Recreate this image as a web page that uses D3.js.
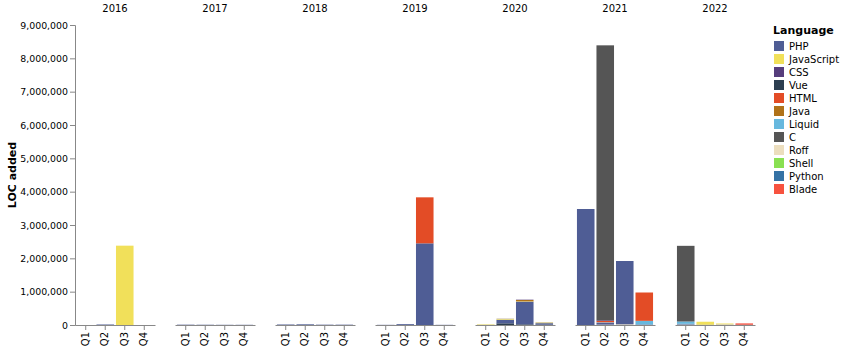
<!DOCTYPE html>
<html>
<head>
<meta charset="utf-8">
<script src="https://cdn.jsdelivr.net/npm/d3@7"></script>
<style>
  body { margin: 0; background: #fff; }
  svg { font-family: "DejaVu Sans", sans-serif; }
</style>
</head>
<body>
<div id="chart"></div>
<script>
//categories
const years = ["2016", "2017", "2018", "2019", "2020", "2021", "2022"];
const quarters = ["Q1", "Q2", "Q3", "Q4"];
const languages = ["PHP", "JavaScript", "CSS", "Vue", "HTML", "Java", "Liquid", "C", "Roff", "Shell", "Python", "Blade"];
const colors = ["#4f5d95", "#f1e05a", "#563d7c", "#2c3e50", "#e34c26", "#b07219", "#67b8de", "#555555", "#ecdebe", "#89e051", "#3572a5", "#f7523f"];
const yTicks = [0, 1000000, 2000000, 3000000, 4000000, 5000000, 6000000, 7000000, 8000000, 9000000];

//LOC added, one value per year/quarter (2016 Q1 ... 2022 Q4)
const phpLoc        = [0, 15000, 0, 0,   10000, 8000, 6000, 6000,   15000, 20000, 10000, 10000,   5000, 25000, 2450000, 5000,   4000, 110000, 680000, 45000,   3480000, 50000, 1900000, 15000,   15000, 8000, 5000, 8000];
const javascriptLoc = [0, 0, 2380000, 0,   0, 0, 0, 0,   0, 0, 0, 0,   0, 0, 0, 0,   15000, 25000, 10000, 20000,   0, 0, 0, 0,   0, 90000, 25000, 0];
const cssLoc        = [0, 0, 0, 0,   0, 0, 0, 0,   0, 0, 0, 0,   0, 0, 0, 0,   0, 5000, 10000, 5000,   0, 20000, 0, 0,   0, 0, 0, 0];
const vueLoc        = [0, 0, 0, 0,   0, 0, 0, 0,   0, 0, 0, 0,   0, 0, 0, 0,   0, 50000, 20000, 10000,   0, 0, 0, 0,   0, 0, 0, 0];
const htmlLoc       = [0, 0, 0, 0,   0, 0, 0, 0,   0, 0, 0, 0,   0, 0, 1380000, 0,   0, 0, 0, 0,   0, 40000, 0, 850000,   0, 0, 0, 0];
const javaLoc       = [0, 0, 0, 0,   0, 0, 0, 0,   0, 0, 0, 0,   0, 0, 0, 0,   0, 0, 40000, 0,   0, 0, 0, 0,   0, 0, 0, 0];
const liquidLoc     = [0, 0, 0, 0,   0, 0, 0, 0,   0, 0, 0, 0,   0, 0, 0, 0,   0, 0, 0, 0,   0, 20000, 0, 110000,   70000, 0, 0, 0];
const cLoc          = [0, 0, 0, 0,   0, 0, 0, 0,   0, 0, 0, 0,   0, 0, 0, 0,   0, 0, 0, 0,   0, 8250000, 0, 0,   2270000, 0, 0, 0];
const roffLoc       = [0, 0, 0, 0,   0, 0, 0, 0,   0, 0, 0, 0,   0, 0, 0, 0,   0, 0, 0, 0,   0, 10000, 20000, 0,   10000, 0, 15000, 0];
const shellLoc      = [0, 0, 0, 0,   0, 0, 0, 0,   0, 0, 0, 0,   0, 0, 0, 0,   0, 0, 0, 0,   0, 0, 0, 0,   0, 0, 0, 0];
const pythonLoc     = [0, 0, 0, 0,   0, 0, 0, 0,   0, 0, 0, 0,   0, 0, 0, 0,   0, 0, 0, 0,   0, 0, 0, 0,   10000, 0, 0, 0];
const bladeLoc      = [0, 0, 0, 0,   0, 0, 0, 0,   0, 0, 0, 0,   0, 0, 0, 0,   0, 0, 0, 0,   0, 0, 0, 0,   0, 0, 0, 40000];
const series = [phpLoc, javascriptLoc, cssLoc, vueLoc, htmlLoc, javaLoc, liquidLoc, cLoc, roffLoc, shellLoc, pythonLoc, bladeLoc];

//svg size
const width = 843;
const height = 351;
const margin = { top: 25, left: 75 };
const facetWidth = 80;
const facetGap = 20;
const innerHeight = 300;

//rows for stacking
const rows = [];
years.forEach((year, yi) => {
  quarters.forEach((q, qi) => {
    const row = { year, quarter: q };
    languages.forEach((lang, li) => { row[lang] = series[li][yi * 4 + qi]; });
    rows.push(row);
  });
});

//stack order: bottom to top in reverse alphabetical order
const stackKeys = languages.slice().sort(d3.descending);
const stacked = d3.stack().keys(stackKeys)(rows);

const color = d3.scaleOrdinal().domain(languages).range(colors);
const y = d3.scaleLinear().domain([0, 9000000]).range([innerHeight, 0]);
const x = d3.scaleBand().domain(quarters).range([0, facetWidth]).padding(0.1);
const facetX = (yr) => margin.left + years.indexOf(yr) * (facetWidth + facetGap);

const svg = d3.select("#chart").append("svg")
    .attr("width", width)
    .attr("height", height);

//y axis
const yAxis = svg.append("g")
    .attr("transform", `translate(${margin.left},${margin.top})`)
    .call(d3.axisLeft(y).tickValues(yTicks).tickFormat(d3.format(",")).tickSize(5).tickPadding(2));
yAxis.select(".domain").attr("stroke", "#888");
yAxis.selectAll(".tick line").attr("stroke", "#888");
yAxis.selectAll("text").attr("font-size", 9.4).attr("fill", "#000").attr("font-family", "DejaVu Sans, sans-serif");

svg.append("text")
    .attr("transform", `translate(16,${margin.top + innerHeight / 2}) rotate(-90)`)
    .attr("text-anchor", "middle")
    .attr("font-size", 11)
    .attr("font-weight", "bold")
    .text("LOC added");

//facets
years.forEach((yr) => {
  const g = svg.append("g").attr("transform", `translate(${facetX(yr)},${margin.top})`);

  g.append("text")
      .attr("x", facetWidth / 2)
      .attr("y", -13)
      .attr("text-anchor", "middle")
      .attr("font-size", 10)
      .text(yr);

  stacked.forEach((layer) => {
    g.selectAll(null)
        .data(layer.filter((d) => d.data.year === yr && d[1] > d[0]))
        .join("rect")
        .attr("x", (d) => x(d.data.quarter))
        .attr("width", x.bandwidth())
        .attr("y", (d) => y(d[1]))
        .attr("height", (d) => y(d[0]) - y(d[1]))
        .attr("fill", color(layer.key));
  });

  const xAxis = g.append("g")
      .attr("transform", `translate(0,${innerHeight})`)
      .call(d3.axisBottom(x).tickSize(5).tickSizeOuter(0));
  xAxis.select(".domain").attr("stroke", "#888");
  xAxis.selectAll(".tick line").attr("stroke", "#888");
  xAxis.selectAll("text")
      .attr("font-size", 10)
      .attr("fill", "#000")
      .attr("font-family", "DejaVu Sans, sans-serif")
      .attr("transform", "rotate(-90)")
      .attr("text-anchor", "end")
      .attr("dy", "0.32em")
      .attr("x", -7)
      .attr("y", 0);
});

//legend
const legend = svg.append("g").attr("transform", "translate(773,0)");
legend.append("text")
    .attr("x", 0)
    .attr("y", 34)
    .attr("font-size", 11)
    .attr("font-weight", "bold")
    .text("Language");

const item = legend.selectAll("g.item")
    .data(languages)
    .join("g")
    .attr("class", "item")
    .attr("transform", (d, i) => `translate(0,${46 + i * 13})`);
item.append("rect")
    .attr("x", 1)
    .attr("y", -5)
    .attr("width", 10)
    .attr("height", 10)
    .attr("fill", (d) => color(d));
item.append("text")
    .attr("x", 16)
    .attr("dy", "0.35em")
    .attr("font-size", 10)
    .text((d) => d);
</script>
</body>
</html>
